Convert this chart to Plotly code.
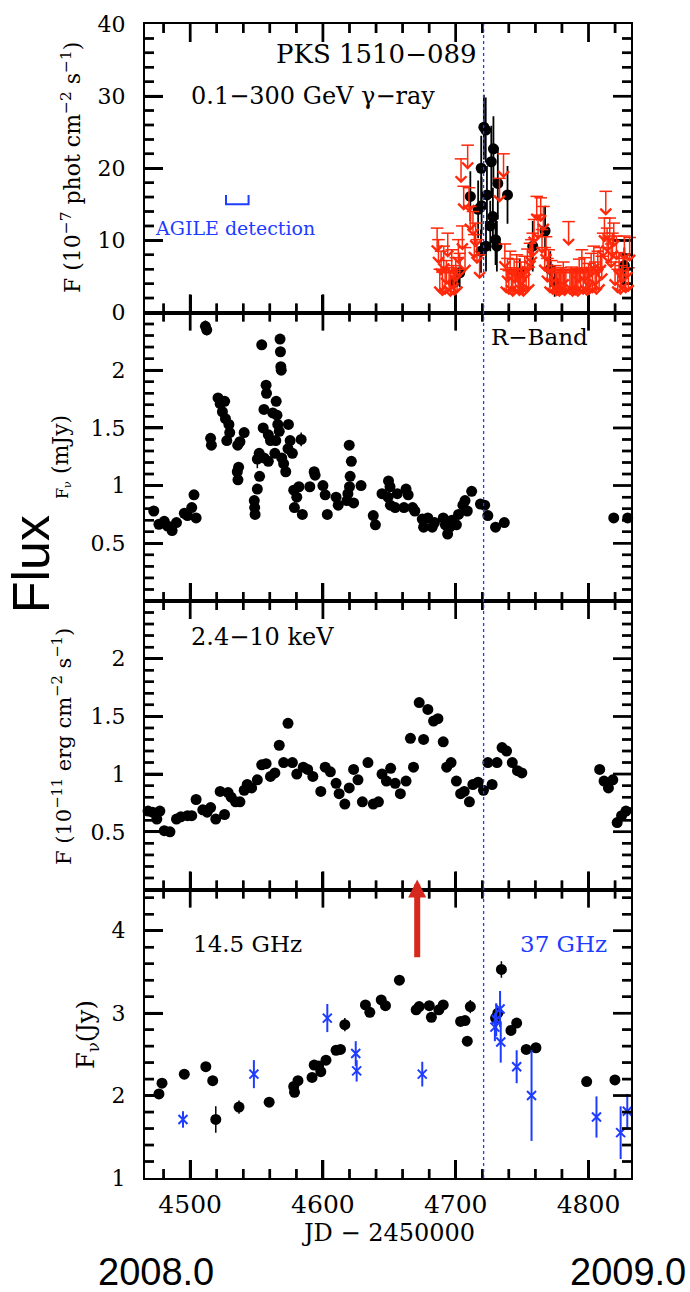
import numpy as np
import plotly.graph_objects as go
from plotly.subplots import make_subplots

# ---------------- data ----------------
# 0.1-300 GeV gamma-ray detections: (JD-2450000, flux 1e-7, error)
gamma_det = [
    (4699.0, 4.2, 1.8), (4703.0, 5.5, 2.0), (4711.0, 16.1, 3.5), (4716.9, 14.3, 4.0),
    (4719.2, 20.0, 4.5), (4721.2, 25.7, 4.5), (4722.6, 25.3, 4.5), (4719.5, 14.8, 4.0),
    (4723.5, 16.3, 4.0), (4726.8, 20.9, 5.0), (4728.4, 22.7, 4.5), (4728.0, 13.3, 4.0),
    (4726.0, 12.0, 3.5), (4730.0, 10.1, 3.5), (4731.0, 9.2, 3.5), (4722.8, 9.2, 3.5),
    (4719.0, 8.5, 3.0), (4731.7, 17.9, 5.0), (4739.0, 16.3, 4.0), (4748.2, 5.5, 2.0),
    (4758.0, 9.2, 3.5), (4767.3, 11.3, 3.5), (4771.2, 6.0, 2.5), (4774.5, 4.2, 2.0),
    (4827.0, 6.5, 2.5),
]
# gamma-ray upper limits: (JD-2450000, flux limit 1e-7)
gamma_ul = [
    (4686, 11.7), (4687, 10.1), (4688, 6.0), (4689, 8.5), (4690, 5.6), (4691, 9.2),
    (4692, 5.8), (4693, 7.2), (4694, 11.0), (4695, 6.2), (4696, 5.5), (4697, 8.7),
    (4698, 6.5), (4699, 5.7), (4700, 7.6), (4701, 6.0), (4702, 10.1), (4703, 8.2),
    (4704, 21.3), (4705, 12.0), (4706, 17.5), (4707, 9.0), (4709, 23.2), (4710, 17.3),
    (4711, 14.7), (4713, 14.0), (4714, 10.8), (4715, 12.4), (4716, 10.1), (4718, 8.0),
    (4733, 18.6), (4736, 22.0), (4737, 9.5), (4738, 6.0), (4739, 7.5), (4740, 5.8),
    (4741, 8.5), (4742, 6.2), (4743, 5.5), (4744, 7.4), (4745, 5.9), (4746, 8.0),
    (4747, 6.0), (4748, 5.6), (4749, 7.0), (4750, 6.1), (4751, 5.5), (4752, 7.8),
    (4753, 6.0), (4754, 8.8), (4755, 6.3), (4756, 9.6), (4757, 10.1), (4758, 11.0),
    (4759, 12.9), (4761, 16.1), (4762, 13.5), (4764, 15.9), (4765, 11.5), (4766, 14.7),
    (4767, 9.0), (4768, 10.5), (4769, 7.5), (4770, 8.7), (4771, 6.0), (4772, 7.2),
    (4773, 5.8), (4775, 6.5), (4776, 5.6), (4777, 6.0), (4778, 5.5), (4779, 6.2),
    (4780, 5.8), (4781, 7.0), (4782, 5.6), (4783, 6.0), (4785, 12.6), (4786, 5.8),
    (4787, 6.3), (4788, 5.5), (4789, 6.0), (4790, 5.7), (4791, 6.1), (4792, 5.5),
    (4793, 7.4), (4794, 6.0), (4795, 8.7), (4796, 5.8), (4797, 7.6), (4798, 6.2),
    (4799, 5.6), (4800, 6.8), (4801, 5.9), (4802, 8.2), (4803, 6.0), (4804, 9.2),
    (4805, 7.0), (4806, 5.8), (4807, 8.5), (4808, 6.3), (4809, 9.0), (4810, 7.8),
    (4811, 11.0), (4812, 13.1), (4813, 16.8), (4814, 11.7), (4815, 10.2), (4816, 13.1),
    (4817, 9.5), (4818, 11.0), (4819, 12.4), (4820, 7.0), (4821, 10.6), (4822, 6.0),
    (4823, 8.3), (4824, 5.8), (4825, 6.5), (4826, 7.5), (4827, 10.6), (4828, 6.0),
    (4829, 8.0), (4830, 6.2), (4831, 10.4),
]
# R-band flux density (mJy): (JD-2450000, flux, error)
rband = [
    (4472.6, 0.78, 0.02), (4476.5, 0.665, 0.02), (4480.5, 0.69, 0.02), (4483.0, 0.65, 0.02),
    (4486.4, 0.61, 0.02), (4489.7, 0.68, 0.02), (4495.6, 0.76, 0.02), (4498.0, 0.74, 0.02),
    (4501.2, 0.81, 0.02), (4502.9, 0.92, 0.02), (4504.5, 0.72, 0.02), (4511.5, 2.38, 0.05),
    (4512.5, 2.35, 0.05), (4515.4, 1.41, 0.03), (4516.0, 1.35, 0.03), (4521.0, 1.76, 0.02),
    (4522.6, 1.71, 0.02), (4524.3, 1.64, 0.02), (4526.0, 1.73, 0.02), (4526.6, 1.58, 0.02),
    (4527.6, 1.39, 0.02), (4529.2, 1.53, 0.02), (4529.8, 1.46, 0.02), (4535.8, 1.35, 0.02),
    (4537.5, 1.38, 0.02), (4540.7, 1.46, 0.02), (4535.5, 1.12, 0.02), (4536.5, 1.16, 0.02),
    (4536.0, 1.05, 0.02), (4548.3, 0.87, 0.02), (4548.6, 0.81, 0.02), (4548.9, 0.75, 0.02),
    (4550.6, 0.97, 0.03), (4552.3, 1.08, 0.03), (4553.9, 2.22, 0.03), (4550.6, 1.23, 0.08),
    (4552.0, 1.28, 0.03), (4555.6, 1.24, 0.03), (4555.6, 1.66, 0.03), (4555.0, 1.50, 0.03),
    (4557.2, 1.87, 0.03), (4557.5, 1.80, 0.03), (4558.9, 1.44, 0.03), (4558.9, 1.21, 0.03),
    (4560.5, 1.39, 0.03), (4562.2, 1.63, 0.03), (4563.8, 1.28, 0.03), (4564.8, 1.73, 0.03),
    (4565.4, 1.61, 0.03), (4566.0, 1.53, 0.03), (4564.5, 1.39, 0.03), (4567.1, 1.47, 0.03),
    (4567.7, 2.27, 0.03), (4568.0, 2.16, 0.03), (4568.3, 2.03, 0.03), (4568.6, 2.00, 0.03),
    (4570.4, 1.19, 0.03), (4569.0, 1.24, 0.03), (4572.0, 1.12, 0.03), (4573.7, 1.32, 0.03),
    (4574.0, 1.53, 0.03), (4575.3, 1.39, 0.03), (4577.0, 1.28, 0.03), (4583.6, 1.40, 0.06),
    (4578.0, 0.96, 0.03), (4578.5, 0.81, 0.03), (4580.3, 0.90, 0.03), (4581.9, 0.99, 0.03),
    (4584.5, 0.75, 0.04), (4590.1, 0.99, 0.02), (4593.4, 1.12, 0.02), (4594.1, 1.09, 0.02),
    (4600.0, 1.00, 0.02), (4601.7, 0.92, 0.02), (4603.3, 0.75, 0.02), (4609.9, 0.90, 0.02),
    (4611.5, 0.83, 0.02), (4618.1, 0.87, 0.02), (4619.8, 1.35, 0.02), (4621.4, 1.21, 0.02),
    (4620.5, 1.08, 0.02), (4620.0, 0.99, 0.02), (4623.1, 0.85, 0.02), (4618.8, 0.93, 0.02),
    (4628.7, 1.00, 0.02), (4637.9, 0.74, 0.02), (4639.5, 0.66, 0.02), (4644.5, 0.93, 0.02),
    (4649.4, 1.04, 0.02), (4650.5, 0.99, 0.02), (4649.0, 0.90, 0.02), (4650.8, 0.83, 0.02),
    (4654.4, 0.81, 0.02), (4656.0, 0.93, 0.02), (4662.6, 0.97, 0.02), (4664.2, 0.92, 0.02),
    (4661.0, 0.81, 0.02), (4667.5, 0.81, 0.02), (4669.2, 0.78, 0.02), (4674.8, 0.71, 0.02),
    (4675.8, 0.64, 0.02), (4679.0, 0.72, 0.02), (4682.3, 0.64, 0.02), (4684.0, 0.68, 0.02),
    (4690.6, 0.72, 0.02), (4692.2, 0.66, 0.02), (4693.9, 0.58, 0.02), (4695.5, 0.64, 0.02),
    (4697.2, 0.70, 0.02), (4700.5, 0.66, 0.02), (4702.1, 0.75, 0.02), (4705.4, 0.83, 0.02),
    (4707.0, 0.87, 0.02), (4708.7, 0.78, 0.02), (4712.0, 0.95, 0.02), (4718.6, 0.84, 0.02),
    (4721.8, 0.83, 0.02), (4724.2, 0.74, 0.02), (4730.0, 0.64, 0.02), (4736.6, 0.68, 0.02),
    (4819.0, 0.72, 0.02), (4829.5, 0.72, 0.02),
]
# 2.4-10 keV X-ray flux (1e-11 erg/cm2/s): (JD-2450000, flux)
xray = [
    (4468.3, 0.68), (4471.6, 0.67), (4474.9, 0.61), (4477.2, 0.68), (4480.5, 0.51),
    (4484.8, 0.50), (4489.7, 0.61), (4493.0, 0.63), (4498.0, 0.64), (4501.2, 0.64),
    (4504.5, 0.78), (4509.5, 0.69), (4512.8, 0.67), (4515.4, 0.71), (4519.3, 0.61),
    (4522.6, 0.85), (4525.9, 0.65), (4528.6, 0.84), (4530.9, 0.80), (4534.2, 0.76),
    (4537.5, 0.76), (4540.7, 0.86), (4543.0, 0.91), (4546.3, 0.88), (4550.6, 0.95),
    (4553.9, 1.08), (4557.2, 1.09), (4560.5, 0.98), (4563.8, 1.01), (4567.1, 1.25),
    (4570.4, 1.10), (4573.7, 1.44), (4577.0, 1.10), (4580.3, 1.00), (4585.2, 1.06),
    (4588.5, 1.04), (4592.4, 0.98), (4598.4, 0.85), (4601.7, 1.06), (4605.6, 1.02),
    (4609.9, 0.92), (4612.2, 0.83), (4616.5, 0.74), (4619.8, 0.88), (4623.1, 1.04),
    (4626.4, 0.95), (4629.7, 0.76), (4633.9, 1.10), (4637.9, 0.74), (4641.8, 0.76),
    (4644.5, 1.00), (4647.8, 0.94), (4651.0, 1.05), (4654.4, 0.92), (4658.3, 0.83),
    (4662.6, 0.94), (4665.9, 1.31), (4668.2, 1.06), (4672.5, 1.62), (4675.8, 1.30),
    (4679.0, 1.56), (4683.3, 1.46), (4686.6, 1.48), (4690.6, 1.28), (4693.2, 1.06),
    (4696.5, 1.10), (4700.5, 0.94), (4703.7, 0.83), (4706.4, 0.85), (4710.3, 0.76),
    (4712.9, 0.91), (4716.9, 0.93), (4720.9, 0.86), (4724.2, 1.10), (4727.4, 0.91),
    (4731.1, 1.10), (4734.9, 1.23), (4738.3, 1.20), (4742.6, 1.10), (4746.5, 1.03),
    (4749.8, 1.01), (4808.4, 1.04), (4811.7, 0.94), (4815.0, 0.88), (4818.3, 0.95),
    (4821.6, 0.58), (4824.9, 0.64), (4828.2, 0.68),
]
xray_err = 0.04
# 14.5 GHz flux density (Jy): (JD-2450000, flux, error)
radio145 = [
    (4476.5, 2.02, 0.04), (4478.8, 2.15, 0.05), (4495.6, 2.26, 0.06), (4511.8, 2.35, 0.04),
    (4517.0, 2.18, 0.04), (4519.3, 1.71, 0.16), (4536.8, 1.86, 0.08), (4559.5, 1.92, 0.04),
    (4578.0, 2.11, 0.04), (4578.6, 2.04, 0.04), (4581.2, 2.18, 0.04), (4591.8, 2.22, 0.04),
    (4593.4, 2.37, 0.04), (4596.7, 2.36, 0.04), (4598.4, 2.29, 0.04), (4602.3, 2.43, 0.04),
    (4609.9, 2.55, 0.04), (4613.2, 2.56, 0.04), (4616.5, 2.86, 0.08), (4632.0, 3.10, 0.04),
    (4635.3, 3.01, 0.04), (4643.9, 3.16, 0.04), (4647.1, 3.09, 0.04), (4657.6, 3.40, 0.04),
    (4670.2, 3.04, 0.04), (4672.5, 3.08, 0.04), (4680.1, 3.09, 0.04), (4681.7, 2.95, 0.04),
    (4687.3, 3.04, 0.04), (4690.6, 3.10, 0.06), (4703.7, 2.90, 0.04), (4707.0, 2.91, 0.04),
    (4708.7, 2.66, 0.04), (4711.0, 3.08, 0.08), (4730.0, 2.94, 0.04), (4731.7, 3.00, 0.04),
    (4734.4, 3.53, 0.10), (4741.6, 2.79, 0.04), (4745.9, 2.88, 0.04), (4753.1, 2.56, 0.05),
    (4760.4, 2.58, 0.04), (4798.6, 2.17, 0.04), (4819.9, 2.19, 0.04),
]
# 37 GHz flux density (Jy): (JD-2450000, flux, error)
radio37 = [
    (4494.6, 1.71, 0.10), (4548.0, 2.26, 0.17), (4603.3, 2.94, 0.17), (4624.7, 2.51, 0.15),
    (4625.4, 2.30, 0.13), (4674.8, 2.26, 0.15), (4729.5, 2.83, 0.17), (4730.5, 2.92, 0.20),
    (4733.4, 3.05, 0.22), (4733.9, 2.65, 0.25), (4745.9, 2.35, 0.20), (4757.1, 2.00, 0.55),
    (4806.0, 1.74, 0.25), (4824.2, 1.55, 0.32), (4829.2, 1.81, 0.21),
]

X_RANGE = [4466, 4832]
X_MAJOR, X_MINOR = 100, 20
FLARE_JD = 4721          # dotted vertical line
ARROW_JD = 4671          # red arrow epoch
AGILE_JD = [4527, 4544]  # AGILE detection interval
AGILE_LEVEL = [15.0, 16.3]

# per-panel y axis: range, labelled ticks, major step, minor step
Y_AXES = {
    1: dict(range=[0, 40], tickvals=[0, 10, 20, 30, 40], major=10, minor=2),
    2: dict(range=[0, 2.5], tickvals=[0.5, 1, 1.5, 2], major=0.5, minor=0.1),
    3: dict(range=[0, 2.5], tickvals=[0.5, 1, 1.5, 2], major=0.5, minor=0.1),
    4: dict(range=[1, 4.5], tickvals=[1, 2, 3, 4], major=1, minor=0.2),
}

# ---------------- styling ----------------
BLACK = "black"
RED_UL = "rgb(255,40,10)"
BLUE = "rgb(30,60,255)"
SERIF = "DejaVu Serif"
SANS = "Liberation Sans"
MAJ_LEN, MIN_LEN, TICK_W = 18, 9, 2.5

W, H = 690, 1292
L, R, T, B = 145, 59, 16, 114
PW, PH = W - L - R, H - T - B
PANEL_H = PH / 4


def px(xp):
    return (xp - L) / PW


def py(yp):
    return (H - B - yp) / PH


def unzip(rows):
    return [list(c) for c in zip(*rows)]


def is_major(v, step):
    return abs(v / step - round(v / step)) < 1e-6


fig = make_subplots(rows=4, cols=1, shared_xaxes=True, vertical_spacing=0)

gx, gy, ge = unzip(gamma_det)
ux, uy = unzip(gamma_ul)
rx, ry, re_ = unzip(rband)
xx, xy = unzip(xray)
ax_, ay_, ae = unzip(radio145)
bx, by, be = unzip(radio37)

dot = dict(color=BLACK, size=11, line=dict(width=0))

fig.add_trace(go.Scatter(x=gx, y=gy, mode="markers", marker=dot, cliponaxis=False,
                         error_y=dict(type="data", array=ge, color=BLACK, thickness=1.8, width=0)),
              row=1, col=1)
fig.add_trace(go.Scatter(x=ux, y=uy, mode="markers", cliponaxis=False,
                         marker=dict(symbol="line-ew", size=9, color=RED_UL,
                                     line=dict(color=RED_UL, width=1.5))),
              row=1, col=1)
fig.add_trace(go.Scatter(x=AGILE_JD[:1] * 2 + AGILE_JD[1:] * 2,
                         y=[AGILE_LEVEL[1], AGILE_LEVEL[0], AGILE_LEVEL[0], AGILE_LEVEL[1]],
                         mode="lines", line=dict(color=BLUE, width=2)),
              row=1, col=1)
fig.add_trace(go.Scatter(x=rx, y=ry, mode="markers", marker=dot, cliponaxis=False,
                         error_y=dict(type="data", array=re_, color=BLACK, thickness=1.5, width=0)),
              row=2, col=1)
fig.add_trace(go.Scatter(x=xx, y=xy, mode="markers", marker=dot, cliponaxis=False,
                         error_y=dict(type="constant", value=xray_err, color=BLACK, thickness=1.5, width=0)),
              row=3, col=1)
fig.add_trace(go.Scatter(x=ax_, y=ay_, mode="markers", marker=dot, cliponaxis=False,
                         error_y=dict(type="data", array=ae, color=BLACK, thickness=1.5, width=0)),
              row=4, col=1)
fig.add_trace(go.Scatter(x=bx, y=by, mode="markers", cliponaxis=False,
                         marker=dict(symbol="x-thin", size=9, color=BLUE, line=dict(color=BLUE, width=2)),
                         error_y=dict(type="data", array=be, color=BLUE, thickness=2, width=0)),
              row=4, col=1)

# ---- tick marks on all four sides of each panel ----
x_per_px = (X_RANGE[1] - X_RANGE[0]) / PW
for r in range(1, 5):
    s = Y_AXES[r]
    y0, y1 = s["range"]
    y_per_px = (y1 - y0) / PANEL_H
    tx, ty = [], []
    vx, vy, vs = [], [], []
    hx, hy, hs = [], [], []
    v = float(np.ceil(X_RANGE[0] / X_MINOR) * X_MINOR)
    while v <= X_RANGE[1] + 1e-9:
        lp = MAJ_LEN if is_major(v, X_MAJOR) else MIN_LEN
        ln = lp * y_per_px
        tx += [v, v, None, v, v, None]
        ty += [y0, y0 + ln, None, y1, y1 - ln, None]
        vx += [v, v]
        vy += [y0 + ln / 2, y1 - ln / 2]
        vs += [lp / 1.4, lp / 1.4]
        v += X_MINOR
    n = int(round((y1 - y0) / s["minor"]))
    for k in range(1, n):
        v = y0 + k * s["minor"]
        lp = MAJ_LEN if is_major(v, s["major"]) else MIN_LEN
        ln = lp * x_per_px
        tx += [X_RANGE[0], X_RANGE[0] + ln, None, X_RANGE[1], X_RANGE[1] - ln, None]
        ty += [v, v, None, v, v, None]
        hx += [X_RANGE[0] + ln / 2, X_RANGE[1] - ln / 2]
        hy += [v, v]
        hs += [lp / 1.4, lp / 1.4]
    fig.add_trace(go.Scatter(x=tx, y=ty, mode="lines", hoverinfo="skip", cliponaxis=False,
                             connectgaps=False, line=dict(color=BLACK, width=TICK_W)),
                  row=r, col=1)
    fig.add_trace(go.Scatter(x=vx, y=vy, mode="markers", hoverinfo="skip", cliponaxis=False,
                             marker=dict(symbol="line-ns", size=vs, color=BLACK,
                                         line=dict(color=BLACK, width=TICK_W))),
                  row=r, col=1)
    fig.add_trace(go.Scatter(x=hx, y=hy, mode="markers", hoverinfo="skip", cliponaxis=False,
                             marker=dict(symbol="line-ew", size=hs, color=BLACK,
                                         line=dict(color=BLACK, width=TICK_W))),
                  row=r, col=1)

axis_common = dict(showline=True, linewidth=2, linecolor=BLACK, mirror=True,
                   ticks="inside", ticklen=MAJ_LEN, tickwidth=TICK_W, tickcolor=BLACK,
                   showgrid=False, zeroline=False)

for r in range(1, 5):
    fig.update_xaxes(range=X_RANGE, tickmode="linear", tick0=4500, dtick=X_MAJOR,
                     showticklabels=(r == 4),
                     tickfont=dict(family=SERIF, size=25, color=BLACK),
                     ticklabelstandoff=3, row=r, col=1, **axis_common)

for r, s in Y_AXES.items():
    fig.update_yaxes(range=s["range"], tickmode="array", tickvals=s["tickvals"],
                     ticktext=[f"{v:g}" for v in s["tickvals"]],
                     tickfont=dict(family=SERIF, size=22, color=BLACK),
                     ticklabelstandoff=13, row=r, col=1, **axis_common)

annotations = []

# upper-limit arrows (stem + open head below each limit bar)
for x, y in gamma_ul:
    annotations.append(dict(x=x, y=y, xref="x", yref="y", text="", showarrow=True,
                            ax=0, ay=26, arrowside="start", startarrowhead=4,
                            startarrowsize=1.4, arrowwidth=1.5, arrowcolor=RED_UL,
                            standoff=0, startstandoff=0))

# red arrow marking the epoch
annotations.append(dict(x=ARROW_JD, y=4.62, xref="x4", yref="y4", ax=ARROW_JD, ay=3.66,
                        axref="x4", ayref="y4", text="", showarrow=True, arrowhead=2,
                        arrowsize=0.6, arrowwidth=6, arrowcolor="rgb(214,40,28)",
                        standoff=0, startstandoff=0))


def label(text, xp, yp, size, color=BLACK, family=SERIF, angle=0):
    annotations.append(dict(x=px(xp), y=py(yp), xref="paper", yref="paper", text=text,
                            showarrow=False, xanchor="center", yanchor="middle",
                            textangle=angle, font=dict(family=family, size=size, color=color)))


label("PKS 1510−089", 376, 46, 26)
label("0.1−300 GeV γ−ray", 313, 88, 24)
label("AGILE detection", 235, 221, 19, color=BLUE)
label("R−Band", 539, 331, 23)
label("2.4−10 keV", 262, 633, 24)
label("14.5 GHz", 247, 942, 23)
label("37 GHz", 563, 942, 23, color=BLUE)
label("F (10<sup>−7</sup> phot cm<sup>−2</sup> s<sup>−1</sup>)", 71, 161, 22, angle=-90)
label("<span style='font-size:16px'>F<sub>ν</sub></span> (mJy)", 61, 452, 22, angle=-90)
label("F (10<sup>−11</sup> erg cm<sup>−2</sup> s<sup>−1</sup>)", 62, 744, 21, angle=-90)
label("F<sub>ν</sub>(Jy)", 88, 1034, 24, angle=-90)
label("Flux", 31, 560, 52, family=SANS, angle=-90)
label("JD − 2450000", 388, 1233, 24)
label("2008.0", 156, 1273, 38, family=SANS)
label("2009.0", 628, 1273, 38, family=SANS)

fig.update_layout(
    width=W, height=H, margin=dict(l=L, r=R, t=T, b=B, pad=0),
    plot_bgcolor="rgba(0,0,0,0)", paper_bgcolor="white", showlegend=False,
    annotations=annotations,
    shapes=[dict(type="line", xref="x4", yref="paper", x0=FLARE_JD, x1=FLARE_JD, y0=0, y1=1,
                 line=dict(color=BLUE, width=1.3, dash="dot"))],
)

fig.write_html("out.html")
